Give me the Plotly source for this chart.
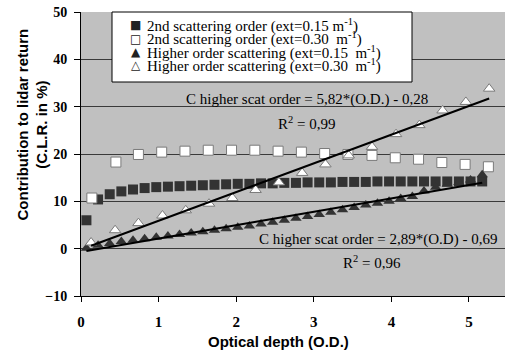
import numpy as np
import plotly.graph_objects as go

# ---- data ----
od_fine = [0.07, 0.22, 0.37, 0.52, 0.67, 0.82, 0.97, 1.12, 1.27, 1.42, 1.57, 1.72,
           1.87, 2.02, 2.17, 2.32, 2.47, 2.62, 2.77, 2.92, 3.07, 3.22, 3.37, 3.52,
           3.67, 3.82, 3.97, 4.12, 4.27, 4.42, 4.57, 4.72, 4.87, 5.02, 5.17]
second_015 = [6.0, 10.4, 11.5, 12.1, 12.5, 12.8, 13.0, 13.1, 13.2, 13.3, 13.4, 13.5,
              13.6, 13.7, 13.7, 13.8, 13.8, 13.9, 13.9, 14.0, 14.0, 14.0, 14.1, 14.1,
              14.1, 14.2, 14.2, 14.2, 14.2, 14.2, 14.2, 14.2, 14.2, 14.2, 14.2]
higher_015 = [0.1, 0.7, 1.1, 1.5, 1.8, 2.1, 2.4, 2.7, 3.0, 3.3, 3.6, 3.9,
              4.2, 4.5, 4.8, 5.2, 5.6, 6.0, 6.4, 6.8, 7.2, 7.7, 8.2, 8.7,
              9.2, 9.6, 10.0, 10.6, 11.0, 12.2, 13.0, 13.6, 14.0, 14.5, 15.6]

od_coarse_sq = [0.14, 0.45, 0.74, 1.04, 1.34, 1.64, 1.94, 2.24, 2.54, 2.84, 3.14,
                3.44, 3.75, 4.05, 4.35, 4.65, 4.95, 5.25]
second_030 = [10.7, 18.3, 19.9, 20.4, 20.6, 20.8, 20.8, 20.8, 20.6, 20.4, 20.1,
              19.9, 19.7, 19.2, 18.9, 18.2, 17.8, 17.3]

od_coarse_tr = [0.13, 0.44, 0.74, 1.05, 1.35, 1.65, 1.95, 2.25, 2.55, 2.85, 3.15,
                3.45, 3.75, 4.06, 4.36, 4.66, 4.96, 5.26]
higher_030 = [1.3, 3.9, 5.4, 7.0, 8.1, 9.5, 10.7, 12.4, 14.0, 16.0, 17.8,
              19.7, 21.5, 24.2, 26.1, 29.2, 31.0, 33.8]

names = ["2nd scattering order (ext=0.15 m<sup>-1</sup>)",
         "2nd scattering order (ext=0.30  m<sup>-1</sup>)",
         "Higher order scattering (ext=0.15  m<sup>-1</sup>)",
         "Higher order scattering (ext=0.30  m<sup>-1</sup>)"]
legend_glyphs = ["\u25A0", "\u25A1", "\u25B2", "\u25B3"]

eq_texts = ["C higher scat order = 5,82*(O.D.) - 0,28", "R<sup>2</sup> = 0,99",
            "C higher scat order = 2,89*(O.D) - 0,69", "R<sup>2</sup> = 0,96"]
eq_x = [2.91, 2.91, 3.83, 3.75]
eq_y = [31.6, 26.6, 1.9, -2.8]

x_title = "Optical depth (O.D.)"
y_title = "Contribution to lidar return<br>(C.L.R. in %)"

x_ticks = [0, 1, 2, 3, 4, 5]
y_ticks = [-10, 0, 10, 20, 30, 40, 50]

DARK = "#333333"
GREY = "#7a7a7a"
SERIF = "Liberation Serif"
SANS = "Liberation Sans"

W, H = 505, 355
ML, MR, MT, MB = 81, 0, 12, 59
PW, PH = W - ML - MR, H - MT - MB


def px_to_paper(px, py):
    return (px - ML) / PW, (H - MB - py) / PH


fig = go.Figure()
fig.add_trace(go.Scatter(x=od_fine, y=second_015, mode="markers", name=names[0],
                         marker=dict(symbol="square", size=10, color=DARK,
                                     line=dict(width=0))))
fig.add_trace(go.Scatter(x=od_coarse_sq, y=second_030, mode="markers", name=names[1],
                         marker=dict(symbol="square", size=10, color="white",
                                     line=dict(width=1, color=GREY))))
fig.add_trace(go.Scatter(x=od_fine, y=higher_015, mode="markers", name=names[2],
                         marker=dict(symbol="triangle-up", size=10, color=DARK,
                                     line=dict(width=0))))
fig.add_trace(go.Scatter(x=od_coarse_tr, y=higher_030, mode="markers", name=names[3],
                         marker=dict(symbol="triangle-up", size=10, color="white",
                                     line=dict(width=1, color=GREY))))

# linear trend lines (least squares fit of the higher order series)
for xs, ys in [(od_coarse_tr, higher_030), (od_fine, higher_015)]:
    a, b = np.polyfit(xs, ys, 1)
    xl = np.array([min(xs), max(xs)])
    fig.add_trace(go.Scatter(x=xl, y=a * xl + b, mode="lines", showlegend=False,
                             line=dict(color="black", width=2), hoverinfo="skip"))

for t, x, y in zip(eq_texts, eq_x, eq_y):
    fig.add_annotation(x=x, y=y, text=t, showarrow=False,
                       font=dict(family=SERIF, size=15, color="black"))

# legend box drawn as a compact text box (as in the reference)
bx0, by0 = px_to_paper(112, 82)
bx1, by1 = px_to_paper(412, 12)
fig.add_shape(type="rect", xref="paper", yref="paper", x0=bx0, y0=by0, x1=bx1, y1=by1,
              line=dict(color="black", width=1), fillcolor="white", layer="above")
row_py = [25, 38.5, 52, 65]
for g, name, py in zip(legend_glyphs, names, row_py):
    gx, gy = px_to_paper(135.5, py)
    tx, _ = px_to_paper(146, py)
    fig.add_annotation(xref="paper", yref="paper", x=gx, y=gy, text=g, showarrow=False,
                       xanchor="center", yanchor="middle",
                       font=dict(family="DejaVu Sans", size=12, color="#222222"))
    fig.add_annotation(xref="paper", yref="paper", x=tx, y=gy, text=name, showarrow=False,
                       xanchor="left", yanchor="middle", borderpad=0,
                       font=dict(family=SERIF, size=15, color="black"))

# axis titles placed as in the reference
xtx, xty = px_to_paper(278, 341)
fig.add_annotation(xref="paper", yref="paper", x=xtx, y=xty, text=x_title,
                   showarrow=False, xanchor="center", yanchor="middle",
                   font=dict(family=SANS, size=15, color="black", weight="bold"))
ytx, yty = px_to_paper(31.5, 125)
fig.add_annotation(xref="paper", yref="paper", x=ytx, y=yty, text=y_title,
                   showarrow=False, xanchor="center", yanchor="middle", textangle=-90,
                   font=dict(family=SANS, size=15, color="black", weight="bold"))

fig.update_layout(
    width=W, height=H,
    margin=dict(l=ML, r=MR, t=MT, b=MB),
    paper_bgcolor="white", plot_bgcolor="#c0c0c0",
    showlegend=False,
    xaxis=dict(range=[0, 5.464], tickvals=x_ticks, showgrid=False, zeroline=False,
               showline=True, linecolor="black", linewidth=1,
               ticks="outside", ticklen=5, tickcolor="black",
               ticklabelstandoff=7,
               tickfont=dict(family=SERIF, size=15, color="black", weight="bold")),
    yaxis=dict(range=[-10, 50], tickvals=y_ticks, showgrid=True, gridcolor="#3a3a3a",
               gridwidth=1, zeroline=False,
               showline=True, linecolor="black", linewidth=1,
               ticks="outside", ticklen=6, tickcolor="black",
               ticklabelstandoff=4,
               tickfont=dict(family=SERIF, size=14, color="black", weight="bold")),
)

fig.write_html("out.html")
